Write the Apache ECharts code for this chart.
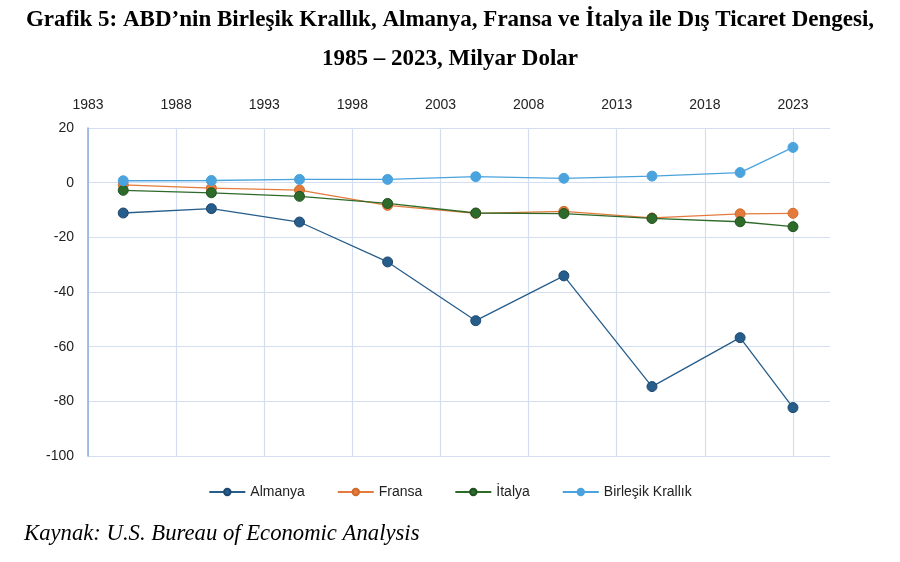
<!DOCTYPE html>
<html>
<head>
<meta charset="utf-8">
<script src="https://cdn.jsdelivr.net/npm/echarts@6/dist/echarts.min.js"></script>
<style>
  html, body { margin: 0; padding: 0; background: #fff; }
  #main { width: 900px; height: 562px; }
</style>
</head>
<body>
<div id="main"></div>
<script>
// years of the observations
var years = [1985, 1990, 1995, 2000, 2005, 2010, 2015, 2020, 2023];
// trade balance, billion dollars
var almanya = [-11.1, -9.5, -14.4, -29.0, -50.5, -34.1, -74.6, -56.7, -82.3];
var fransa = [-0.8, -2.0, -2.7, -8.3, -11.2, -10.5, -12.9, -11.4, -11.2];
var italya = [-2.8, -3.7, -5.0, -7.6, -11.1, -11.3, -13.1, -14.3, -16.1];
var birlesikKrallik = [0.7, 0.8, 1.2, 1.2, 2.2, 1.6, 2.4, 3.7, 12.9];
var names = ['Almanya', 'Fransa', 'İtalya', 'Birleşik Krallık'];
var colors = ['#275D8A', '#E47B3C', '#2E6A2A', '#4BA3DE'];
var borders = ['#1C4770', '#D06A2C', '#1F5220', '#4BA3DE'];

// x axis starts at 1983 with ticks every 5 years
var baseYear = 1983;

function pairs(values) {
  return years.map(function (y, i) { return [y - baseYear, values[i]]; });
}

var titleStyle = {
  fontFamily: 'Liberation Serif',
  fontWeight: 'bold',
  fontSize: 23,
  color: '#000'
};

var chart = echarts.init(document.getElementById('main'));

var seriesData = [almanya, fransa, italya, birlesikKrallik];

chart.setOption({
  animation: false,
  color: colors,
  title: [{
    text: 'Grafik 5: ABD’nin Birleşik Krallık, Almanya, Fransa ve İtalya ile Dış Ticaret Dengesi,',
    left: 'center',
    top: 4,
    textStyle: titleStyle
  }, {
    text: '1985 – 2023, Milyar Dolar',
    left: 'center',
    top: 43,
    textStyle: titleStyle
  }, {
    text: 'Kaynak: U.S. Bureau of Economic Analysis',
    left: 19,
    top: 518,
    textStyle: {
      fontFamily: 'Liberation Serif',
      fontStyle: 'italic',
      fontWeight: 'normal',
      fontSize: 22.7,
      color: '#000'
    }
  }],
  legend: {
    data: names,
    bottom: 58,
    left: 'center',
    itemWidth: 36,
    itemHeight: 8,
    itemGap: 32,
    textStyle: {
      fontFamily: 'Liberation Sans',
      fontSize: 14,
      color: '#222'
    }
  },
  grid: {
    left: 88,
    right: 70,
    top: 128,
    bottom: 106
  },
  xAxis: {
    type: 'value',
    position: 'top',
    min: 0,
    max: 42.1,
    interval: 5,
    axisLine: { show: false },
    axisTick: { show: false },
    axisLabel: {
      margin: 16,
      showMaxLabel: false,
      fontFamily: 'Liberation Sans',
      fontSize: 14,
      color: '#222',
      formatter: function (v) { return String(v + baseYear); }
    },
    splitLine: {
      showMaxLine: false,
      lineStyle: { color: '#D3DEF1', width: 1.2 }
    }
  },
  yAxis: {
    type: 'value',
    min: -100,
    max: 20,
    interval: 20,
    axisLine: { show: true, lineStyle: { color: '#8FAADC', width: 1.5 } },
    axisTick: { show: false },
    axisLabel: {
      margin: 14,
      fontFamily: 'Liberation Sans',
      fontSize: 14,
      color: '#222'
    },
    splitLine: {
      lineStyle: { color: '#D3DEF1', width: 1.2 }
    }
  },
  series: seriesData.map(function (vals, i) {
    return {
      name: names[i],
      type: 'line',
      data: pairs(vals),
      symbol: 'circle',
      symbolSize: 10,
      lineStyle: { width: 1.3, color: colors[i] },
      itemStyle: { color: colors[i], borderColor: borders[i], borderWidth: 1 }
    };
  })
});
</script>
</body>
</html>
